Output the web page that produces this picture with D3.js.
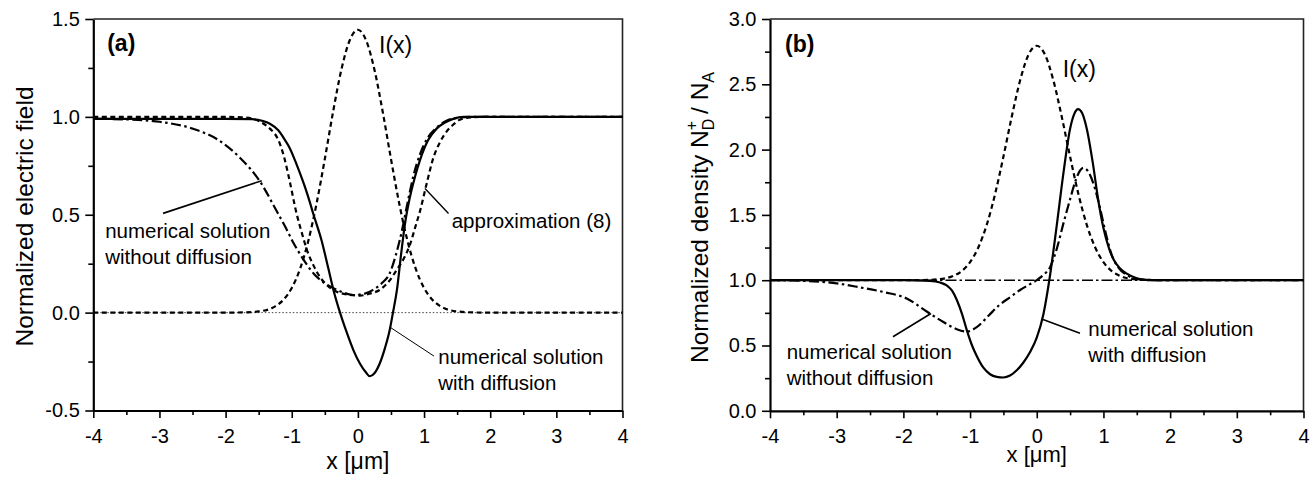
<!DOCTYPE html>
<html>
<head>
<meta charset="utf-8">
<script src="https://cdn.jsdelivr.net/npm/d3@7"></script>
<style>
  body { margin: 0; background: #fff; }
  svg text { font-family: "Liberation Sans", Arial, Helvetica, sans-serif; fill: #000; }
</style>
</head>
<body>
<svg id="chart" width="1316" height="481"></svg>
<script>
// ---- data ----
const xTicks = [-4, -3, -2, -1, 0, 1, 2, 3, 4];
const xMinor = [-3.5, -2.5, -1.5, -0.5, 0.5, 1.5, 2.5, 3.5];
const yTicksA = [-0.5, 0, 0.5, 1, 1.5];
const yMinorA = [-0.25, 0.25, 0.75, 1.25];
const yTicksB = [0, 0.5, 1, 1.5, 2, 2.5, 3];
const yMinorB = [0.25, 0.75, 1.25, 1.75, 2.25, 2.75];

// (a) normalized electric field
const aIntensity = [
    [-4, 0], [-2, 0], [-1.75, 0.001], [-1.5, 0.006], [-1.25, 0.032], [-1.125, 0.066],
    [-1, 0.126], [-0.875, 0.223], [-0.75, 0.366], [-0.625, 0.557], [-0.5, 0.785],
    [-0.375, 1.026], [-0.25, 1.241], [-0.125, 1.39], [0, 1.445], [0.125, 1.39],
    [0.25, 1.241], [0.375, 1.026], [0.5, 0.785], [0.625, 0.557], [0.75, 0.366],
    [0.875, 0.223], [1, 0.126], [1.125, 0.066], [1.25, 0.032], [1.5, 0.006],
    [1.75, 0.001], [2, 0], [4, 0]
];
const aApprox = [
    [-4, 1], [-2, 1], [-1.75, 0.998], [-1.58, 0.99], [-1.45, 0.97], [-1.33, 0.94],
    [-1.2, 0.88], [-1.12, 0.8], [-1.03, 0.67], [-0.93, 0.51], [-0.85, 0.41],
    [-0.77, 0.32], [-0.67, 0.24], [-0.57, 0.18], [-0.45, 0.135], [-0.32, 0.107],
    [-0.15, 0.092], [0.03, 0.087], [0.18, 0.097], [0.33, 0.116], [0.47, 0.16],
    [0.59, 0.22], [0.7, 0.28], [0.79, 0.35], [0.87, 0.44], [0.94, 0.52],
    [1.04, 0.66], [1.14, 0.79], [1.24, 0.87], [1.34, 0.925], [1.44, 0.96],
    [1.54, 0.985], [1.7, 0.997], [1.9, 1], [4, 1]
];
const aNoDiff = [
    [-4, 0.99], [-3.5, 0.987], [-3, 0.975], [-2.5, 0.94], [-2.1, 0.88], [-1.78, 0.79],
    [-1.48, 0.67], [-1.23, 0.52], [-1.1, 0.44], [-0.98, 0.36], [-0.82, 0.27],
    [-0.67, 0.2], [-0.5, 0.15], [-0.37, 0.125], [-0.2, 0.1], [-0.07, 0.09],
    [0.08, 0.095], [0.23, 0.116], [0.36, 0.15], [0.48, 0.2], [0.57, 0.29],
    [0.66, 0.41], [0.75, 0.56], [0.84, 0.7], [0.94, 0.81], [1.05, 0.89],
    [1.19, 0.945], [1.34, 0.98], [1.5, 0.995], [1.7, 1], [4, 1]
];
const aDiff = [
    [-4, 0.99], [-2, 0.99], [-1.6, 0.988], [-1.45, 0.98], [-1.33, 0.965], [-1.2, 0.93],
    [-1.1, 0.88], [-1.03, 0.84], [-0.93, 0.76], [-0.83, 0.67], [-0.75, 0.59],
    [-0.67, 0.5], [-0.55, 0.37], [-0.45, 0.23], [-0.37, 0.116], [-0.27, 0],
    [-0.17, -0.1], [-0.07, -0.19], [0.03, -0.26], [0.12, -0.305], [0.18, -0.325],
    [0.25, -0.31], [0.33, -0.26], [0.41, -0.18], [0.48, -0.09], [0.53, 0],
    [0.59, 0.116], [0.65, 0.29], [0.71, 0.45], [0.78, 0.58], [0.86, 0.69],
    [0.94, 0.78], [1.06, 0.88], [1.19, 0.94], [1.31, 0.97], [1.44, 0.99],
    [1.6, 1], [4, 1]
];
const aZero = [[-4, 0], [4, 0]];

// (b) normalized density
const bIntensity = [
    [-4, 1], [-2, 1], [-1.75, 1.001], [-1.5, 1.006], [-1.25, 1.033], [-1.125, 1.07],
    [-1, 1.138], [-0.875, 1.252], [-0.75, 1.424], [-0.625, 1.659], [-0.5, 1.946],
    [-0.375, 2.251], [-0.25, 2.529], [-0.125, 2.725], [0, 2.795], [0.125, 2.725],
    [0.25, 2.529], [0.375, 2.251], [0.5, 1.946], [0.625, 1.659], [0.75, 1.424],
    [0.875, 1.252], [1, 1.138], [1.125, 1.07], [1.25, 1.033], [1.5, 1.006],
    [1.75, 1.001], [2, 1], [4, 1]
];
const bNoDiff = [
    [-4, 1], [-3.5, 0.995], [-3, 0.976], [-2.65, 0.945], [-2.3, 0.91], [-1.95, 0.86],
    [-1.65, 0.76], [-1.4, 0.68], [-1.2, 0.625], [-1.05, 0.606], [-0.9, 0.64],
    [-0.72, 0.73], [-0.56, 0.81], [-0.4, 0.87], [-0.25, 0.925], [-0.1, 0.97],
    [0, 1], [0.1, 1.04], [0.2, 1.1], [0.3, 1.24], [0.4, 1.435], [0.5, 1.62],
    [0.58, 1.76], [0.65, 1.84], [0.7, 1.86], [0.76, 1.84], [0.85, 1.74],
    [0.95, 1.55], [1.03, 1.37], [1.12, 1.2], [1.22, 1.1], [1.35, 1.04],
    [1.5, 1.01], [1.7, 1], [4, 1]
];
const bDiff = [
    [-4, 1], [-2, 1], [-1.6, 0.995], [-1.45, 0.982], [-1.35, 0.96], [-1.27, 0.92],
    [-1.2, 0.85], [-1.12, 0.74], [-1.05, 0.62], [-0.97, 0.5], [-0.9, 0.42],
    [-0.8, 0.33], [-0.7, 0.28], [-0.6, 0.26], [-0.5, 0.255], [-0.4, 0.27],
    [-0.3, 0.31], [-0.2, 0.37], [-0.1, 0.45], [0, 0.56], [0.1, 0.74], [0.2, 1.04],
    [0.3, 1.42], [0.4, 1.82], [0.5, 2.16], [0.56, 2.27], [0.62, 2.31], [0.68, 2.28],
    [0.75, 2.16], [0.84, 1.9], [0.92, 1.62], [1, 1.4], [1.08, 1.25], [1.15, 1.16],
    [1.25, 1.09], [1.35, 1.05], [1.5, 1.015], [1.65, 1.003], [1.8, 1], [4, 1]
];
const bOne = [[-4, 1], [4, 1]];

// ---- drawing ----
const svg = d3.select('#chart');

const styles = {
    solid: { width: 2.2, dash: null },
    dash: { width: 2.2, dash: '5,3.5' },
    dashdot: { width: 2.2, dash: '10,3.5,2.5,3.5' },
    dotted: { width: 1, dash: '1.5,2' },
    refdashdot: { width: 1.4, dash: '11,3,2.5,3' }
};

function drawPanel(p) {
    const g = svg.append('g');
    const x = p.x, y = p.y;
    const [x0, x1] = x.range();
    const [yb, yt] = y.range();

    // minor ticks
    g.append('g').attr('transform', `translate(0,${yb})`)
        .call(d3.axisBottom(x).tickValues(xMinor).tickSize(4.5).tickFormat('').tickSizeOuter(0))
        .call(a => a.select('.domain').remove());
    g.append('g').attr('transform', `translate(${x0},0)`)
        .call(d3.axisLeft(y).tickValues(p.yMinor).tickSize(5).tickFormat('').tickSizeOuter(0))
        .call(a => a.select('.domain').remove());

    // major ticks + labels
    const xa = g.append('g').attr('transform', `translate(0,${yb})`)
        .call(d3.axisBottom(x).tickValues(xTicks).tickSize(7.5).tickPadding(11)
            .tickFormat(d => String(d)).tickSizeOuter(0));
    const ya = g.append('g').attr('transform', `translate(${x0},0)`)
        .call(d3.axisLeft(y).tickValues(p.yTicks).tickSize(8).tickPadding(5.5)
            .tickFormat(d => d.toFixed(1)).tickSizeOuter(0));

    g.selectAll('.tick line').attr('stroke', '#000').attr('stroke-width', 1.6);
    g.selectAll('.domain').attr('stroke', '#000').attr('stroke-width', 2.2);
    g.selectAll('.tick text').attr('font-size', 20).attr('font-family', null);
    xa.attr('font-family', null);
    ya.attr('font-family', null);

    // frame top + right
    g.append('path')
        .attr('d', `M${x0},${yt}H${x1}V${yb}`)
        .attr('fill', 'none').attr('stroke', '#222').attr('stroke-width', 1.6);

    // curves
    const line = d3.line().x(d => x(d[0])).y(d => y(d[1])).curve(d3.curveMonotoneX);
    p.series.forEach(s => {
        const st = styles[s.style];
        g.append('path')
            .datum(s.data)
            .attr('d', line)
            .attr('fill', 'none')
            .attr('stroke', s.color || '#000')
            .attr('stroke-width', st.width)
            .attr('stroke-dasharray', st.dash)
            .attr('stroke-linejoin', 'round');
    });

    // pointer lines
    p.pointers.forEach(pt => {
        g.append('line')
            .attr('x1', x(pt[0])).attr('y1', y(pt[1]))
            .attr('x2', x(pt[2])).attr('y2', y(pt[3]))
            .attr('stroke', '#000').attr('stroke-width', pt[4]);
    });

    // labels
    p.labels.forEach(lb => {
        const t = g.append('text')
            .attr('x', x(lb.x)).attr('y', y(lb.y))
            .attr('font-size', lb.size)
            .attr('font-weight', lb.bold ? 'bold' : null);
        lb.lines.forEach((s, i) => {
            t.append('tspan').attr('x', x(lb.x)).attr('dy', i === 0 ? 0 : lb.lead).text(s);
        });
    });

    // x title
    g.append('text')
        .attr('x', (x0 + x1) / 2).attr('y', p.xTitleY)
        .attr('text-anchor', 'middle').attr('font-size', p.xTitleSize)
        .text('x [\u03bcm]');
    return g;
}

const xA = d3.scaleLinear().domain([-4, 4]).range([93.3, 622.5]);
const yA = d3.scaleLinear().domain([-0.5, 1.5]).range([410.5, 19]);
const xB = d3.scaleLinear().domain([-4, 4]).range([770, 1303.5]);
const yB = d3.scaleLinear().domain([0, 3]).range([410.8, 19]);

drawPanel({
    x: xA, y: yA, yTicks: yTicksA, yMinor: yMinorA, xTitleY: 469, xTitleSize: 23,
    series: [
        { data: aZero, style: 'dotted', color: '#444' },
        { data: aIntensity, style: 'dash' },
        { data: aApprox, style: 'dash' },
        { data: aNoDiff, style: 'dashdot' },
        { data: aDiff, style: 'solid' }
    ],
    pointers: [
        [-2.946, 0.507, -1.454, 0.674, 1.6],
        [1.014, 0.634, 1.37, 0.506, 1.4],
        [0.493, -0.076, 1.15, -0.222, 1]
    ],
    labels: [
        { x: -3.79, y: 1.335, size: 23, bold: true, lines: ['(a)'] },
        { x: 0.319, y: 1.328, size: 23, lines: ['I(x)'] },
        { x: -3.82, y: 0.379, size: 20.5, lead: 26, lines: ['numerical solution', 'without diffusion'] },
        { x: 1.418, y: 0.432, size: 20.5, lines: ['approximation (8)'] },
        { x: 1.215, y: -0.263, size: 20.5, lead: 25.5, lines: ['numerical solution', 'with diffusion'] }
    ]
});

drawPanel({
    x: xB, y: yB, yTicks: yTicksB, yMinor: yMinorB, xTitleY: 462, xTitleSize: 22,
    series: [
        { data: bOne, style: 'refdashdot' },
        { data: bIntensity, style: 'dash' },
        { data: bNoDiff, style: 'dashdot' },
        { data: bDiff, style: 'solid' }
    ],
    pointers: [
        [-2.156, 0.567, -1.586, 0.745, 1.6],
        [0.094, 0.70, 0.648, 0.593, 1.6]
    ],
    labels: [
        { x: -3.775, y: 2.747, size: 23, bold: true, lines: ['(b)'] },
        { x: 0.389, y: 2.556, size: 23, lines: ['I(x)'] },
        { x: -3.75, y: 0.394, size: 20.5, lead: 25.7, lines: ['numerical solution', 'without diffusion'] },
        { x: 0.773, y: 0.573, size: 20.5, lead: 25.7, lines: ['numerical solution', 'with diffusion'] }
    ]
});

// y titles
svg.append('text')
    .attr('transform', 'translate(32.5,216.5) rotate(-90)')
    .attr('text-anchor', 'middle').attr('font-size', 24.5)
    .text('Normalized electric field');

const yt = svg.append('text')
    .attr('transform', 'translate(708,217.5) rotate(-90)')
    .attr('text-anchor', 'middle').attr('font-size', 24.5);
yt.append('tspan').text('Normalized density N');
yt.append('tspan').attr('dy', 6).attr('font-size', 16).text('D');
yt.append('tspan').attr('dx', -11.5).attr('dy', -17).attr('font-size', 16).text('+');
yt.append('tspan').attr('dy', 11).text(' / N');
yt.append('tspan').attr('dy', 6).attr('font-size', 16).text('A');
</script>
</body>
</html>
